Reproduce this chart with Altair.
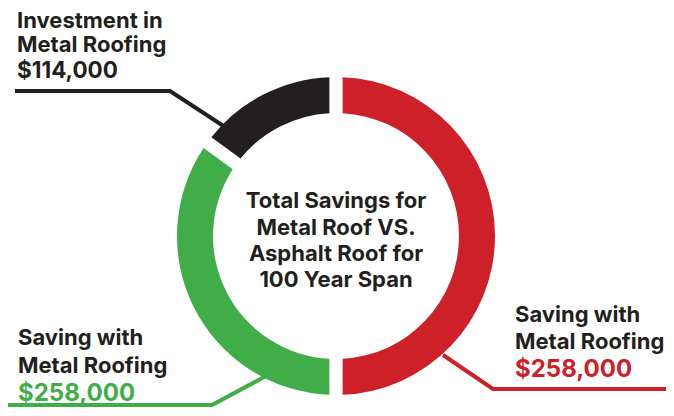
import altair as alt
import pandas as pd

# Ring segments (arc span, in degrees) and colours
seg_names = ["Saving (red)", "Saving (green)", "Investment"]
seg_span = [180, 126, 54]
seg_order = [1, 2, 3]
seg_colors = ["#CD2029", "#41AD49", "#231F20"]

# Label texts
label_text = [
    "Investment in", "Metal Roofing", "$114,000",
    "Saving with", "Metal Roofing", "$258,000",
    "Saving with", "Metal Roofing", "$258,000",
    "Total Savings for", "Metal Roof VS.", "Asphalt Roof for", "100 Year Span",
]
label_x = [17, 17, 17, 18, 18, 18, 515, 515, 515, 336, 336, 336, 336]
label_y = [28, 52, 78, 345, 373, 401, 322, 349, 377, 208, 235, 261, 287]
label_color = ["#231F20", "#231F20", "#231F20",
               "#231F20", "#231F20", "#41AD49",
               "#231F20", "#231F20", "#CD2029",
               "#231F20", "#231F20", "#231F20", "#231F20"]
label_size = [22, 22, 22.5, 22, 22, 24, 22, 22, 24, 22, 22, 22, 22]
label_align = ["left"] * 9 + ["center"] * 4

# Leader lines
lead_id = ["black", "black", "black", "green", "green", "green", "red", "red", "red"]
lead_x = [15, 170, 225, 0, 212, 266, 443, 493, 674]
lead_y = [91, 91, 127, 405, 405, 376, 355, 389, 389]
lead_ord = [0, 1, 2, 0, 1, 2, 0, 1, 2]
lead_colors = {"black": "#231F20", "green": "#41AD49", "red": "#CD2029"}

W, H = 658, 400
xs = alt.Scale(domain=[0, 674], range=[-8, 666])
ys = alt.Scale(domain=[0, 416], range=[-8, 408])

seg_df = pd.DataFrame({"name": seg_names, "span": seg_span, "ord": seg_order})
arc = alt.Chart(seg_df).mark_arc(outerRadius=159, innerRadius=123, padAngle=0.066).encode(
    theta=alt.Theta("span:Q", stack=True, scale=alt.Scale(domain=[0, 360], range=[0, 6.283185307])),
    order=alt.Order("ord:Q", sort="ascending"),
    color=alt.Color("name:N", scale=alt.Scale(domain=seg_names, range=seg_colors), legend=None),
    x=alt.value(328),
    y=alt.value(228),
)

lead_df = pd.DataFrame({"id": lead_id, "x": lead_x, "y": lead_y, "o": lead_ord})
lines = alt.Chart(lead_df).mark_line(strokeWidth=4, strokeJoin="miter").encode(
    x=alt.X("x:Q", scale=xs, axis=None),
    y=alt.Y("y:Q", scale=ys, axis=None),
    detail="id:N",
    order="o:Q",
    stroke=alt.Stroke("id:N", scale=alt.Scale(domain=list(lead_colors.keys()),
                                               range=list(lead_colors.values())), legend=None),
)

lab_df = pd.DataFrame({"t": label_text, "x": label_x, "y": label_y, "c": label_color,
                       "s": label_size, "a": label_align})
texts = []
for al in ["left", "center"]:
    texts.append(
        alt.Chart(lab_df[lab_df.a == al]).mark_text(
            align=al, baseline="alphabetic", font="Inter", fontWeight=700
        ).encode(
            x=alt.X("x:Q", scale=xs, axis=None),
            y=alt.Y("y:Q", scale=ys, axis=None),
            text="t:N",
            color=alt.Color("c:N", scale=None),
            size=alt.Size("s:Q", scale=None),
        )
    )

chart = alt.layer(lines, arc, *texts).properties(
    width=W, height=H, autosize=alt.AutoSizeParams(type="none"), padding=0
).configure_view(stroke=None).resolve_scale(color="independent")

chart.save("out.html", embed_options={"renderer": "svg", "actions": False})
